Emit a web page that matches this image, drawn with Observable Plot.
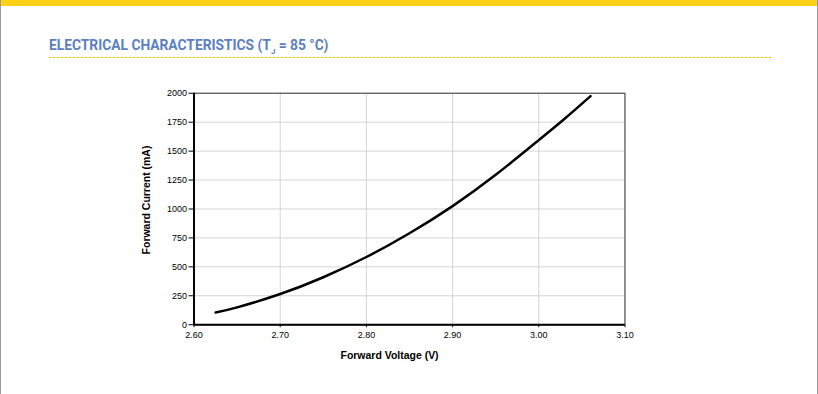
<!DOCTYPE html>
<html>
<head>
<meta charset="utf-8">
<script src="https://cdn.jsdelivr.net/npm/d3@7"></script>
<script src="https://cdn.jsdelivr.net/npm/@observablehq/plot@0.6"></script>
<style>
  html, body { margin: 0; padding: 0; background: #fff; }
  #page { position: relative; width: 818px; height: 394px; overflow: hidden; box-sizing: border-box; border-left: 1px solid #9a9a9a; border-right: 1px solid #9a9a9a; }
  #bar { position: absolute; left: 0; top: 0; width: 818px; height: 6px; background: #fcd116; }
  #title { position: absolute; left: 48px; top: 37px; font-family: Roboto, "Liberation Sans", sans-serif; font-weight: bold; font-size: 14px; color: #5b7fc0; white-space: nowrap; transform-origin: 0 0; transform: scaleX(0.985); }
  #title sub { font-size: 8px; }
  #rule { position: absolute; left: 48px; top: 57px; width: 722px; height: 1px; background: repeating-linear-gradient(to right, #f2c200 0 2px, #fbe9a0 2px 4px); }
  #chart { position: absolute; left: 0; top: 0; }
</style>
</head>
<body>
<div id="page">
  <div id="bar"></div>
  <div id="title">ELECTRICAL CHARACTERISTICS (T<sub>J</sub> = 85 °C)</div>
  <div id="rule"></div>
  <div id="chart"></div>
</div>
<script>
const voltage = [2.625, 2.65, 2.70, 2.75, 2.80, 2.85, 2.90, 2.95, 3.00, 3.03, 3.06];
const current = [105, 150, 265, 410, 585, 790, 1025, 1295, 1595, 1780, 1975];
const xTicks = [2.6, 2.7, 2.8, 2.9, 3.0, 3.1];
const yTicks = [0, 250, 500, 750, 1000, 1250, 1500, 1750, 2000];
const xLabel = "Forward Voltage (V)";
const yLabel = "Forward Current (mA)";

const data = voltage.map((v, i) => ({v, c: current[i]}));

const chart = Plot.plot({
  width: 818,
  height: 394,
  marginLeft: 193,
  marginRight: 193,
  marginTop: 93,
  marginBottom: 69,
  style: {fontFamily: "'Liberation Sans', Arial, sans-serif", fontSize: "9px", color: "#000", background: "transparent"},
  x: {domain: [2.6, 3.1], label: null},
  y: {domain: [0, 2000], label: null},
  marks: [
    Plot.gridX(xTicks, {stroke: "#d4d4d4", strokeOpacity: 1, strokeWidth: 1}),
    Plot.gridY(yTicks, {stroke: "#d4d4d4", strokeOpacity: 1, strokeWidth: 1}),
    Plot.frame({stroke: "#555", strokeWidth: 1.2}),
    Plot.axisX(xTicks, {tickSize: 3, tickPadding: 4, tickFormat: d => d.toFixed(2), label: null, stroke: "#000", fontSize: 9}),
    Plot.axisY(yTicks, {tickSize: 5, tickPadding: 2, tickFormat: d3.format("d"), label: null, stroke: "#000", fontSize: 9}),
    Plot.ruleX([2.6], {stroke: "#000", strokeWidth: 2}),
    Plot.ruleY([0], {stroke: "#000", strokeWidth: 2}),
    Plot.line(data, {x: "v", y: "c", curve: "natural", stroke: "#000", strokeWidth: 2.5}),
    Plot.text([xLabel], {frameAnchor: "bottom", dx: -20, dy: 34, fontWeight: "bold", fontSize: 10.5, text: d => d}),
    Plot.text([yLabel], {frameAnchor: "left", textAnchor: "middle", dx: -48, dy: -9, rotate: -90, fontWeight: "bold", fontSize: 10.5, text: d => d})
  ]
});
document.getElementById("chart").appendChild(chart);
</script>
</body>
</html>
